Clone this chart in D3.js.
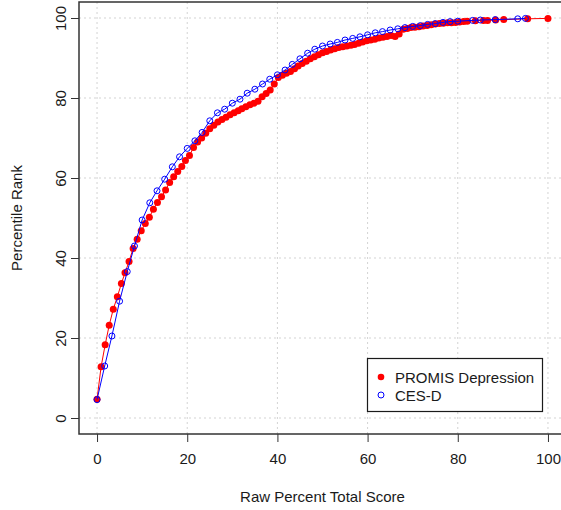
<!DOCTYPE html>
<html>
<head>
<meta charset="utf-8">
<script src="https://cdn.jsdelivr.net/npm/d3@7"></script>
<style>
  body { margin: 0; background: #fff; }
  text { font-family: "Liberation Sans", Arial, sans-serif; fill: #1a1a1a; }
</style>
</head>
<body>
<svg id="chart" width="561" height="510"></svg>
<script>
// PROMIS Depression: raw percent total score -> percentile rank
const promisX = [0.0,0.9,1.8,2.7,3.6,4.5,5.4,6.2,7.1,8.0,8.9,9.8,10.7,11.6,12.5,13.4,14.3,15.2,16.1,17.0,
  17.9,18.8,19.6,20.5,21.4,22.3,23.2,24.1,25.0,25.9,26.8,27.7,28.6,29.5,30.4,31.3,32.1,33.0,33.9,34.8,
  35.7,36.6,37.5,38.4,39.3,40.2,41.1,42.0,42.9,43.8,44.6,45.5,46.4,47.3,48.2,49.1,50.0,50.9,51.8,52.7,
  53.6,54.5,55.4,56.3,57.1,58.0,58.9,59.8,60.7,61.6,62.5,63.4,64.3,65.2,66.1,67.0,67.9,68.8,69.6,70.5,
  71.4,72.3,73.2,74.1,75.0,75.9,76.8,77.7,78.6,79.5,80.4,81.3,82.1,83.9,85.7,86.6,88.4,90.2,95.5,100.0];
const promisY = [4.7,12.8,18.3,23.2,27.2,30.3,33.6,36.3,39.1,42.4,44.7,46.8,48.6,50.2,52.2,53.9,55.3,57.0,58.9,60.3,
  61.6,62.9,64.4,65.6,67.6,69.0,70.0,71.2,72.3,73.2,74.0,74.6,75.2,75.8,76.3,76.8,77.3,77.8,78.3,78.7,
  79.2,80.3,81.1,82.0,83.5,85.1,85.7,86.2,86.6,87.3,88.0,88.6,89.2,89.8,90.3,90.8,91.3,91.6,92.0,92.3,
  92.6,92.8,93.0,93.2,93.4,93.7,94.0,94.3,94.5,94.7,95.0,95.2,95.4,95.6,95.4,96.0,97.2,97.4,97.6,97.7,
  97.8,98.0,98.1,98.3,98.5,98.6,98.7,98.8,98.8,98.9,99.0,99.1,99.2,99.3,99.4,99.4,99.5,99.6,99.8,99.9];

// CES-D
const cesdX = [0.0,1.7,3.3,5.0,6.7,8.3,10.0,11.7,13.3,15.0,16.7,18.3,20.0,21.7,23.3,25.0,26.7,28.3,30.0,31.7,
  33.3,35.0,36.7,38.3,40.0,41.7,43.3,45.0,46.7,48.3,50.0,51.7,53.3,55.0,56.7,58.3,60.0,61.7,63.3,65.0,
  66.7,68.3,70.0,71.7,73.3,75.0,76.7,78.3,80.0,83.3,85.0,88.3,93.3,95.0];
const cesdY = [4.6,13.0,20.5,29.2,36.6,43.0,49.5,53.8,56.8,59.7,62.8,65.3,67.4,69.3,71.4,74.3,76.3,77.2,78.7,79.7,
  81.2,82.2,83.5,84.7,85.8,87.0,88.4,89.8,91.2,92.2,93.0,93.5,93.9,94.5,94.9,95.3,95.8,96.3,96.6,97.0,
  97.3,97.6,97.9,98.1,98.4,98.6,98.9,99.1,99.2,99.4,99.5,99.6,99.8,99.9];

const xTicks = [0, 20, 40, 60, 80, 100];
const yTicks = [0, 20, 40, 60, 80, 100];
const seriesNames = ["PROMIS Depression", "CES-D"];

const svg = d3.select('#chart');
const pLeft = 79, pRight = 566, pTop = 2, pBottom = 434;

const x = d3.scaleLinear().domain([-4, 104]).range([pLeft, pRight]);
const y = d3.scaleLinear().domain([-4, 104]).range([pBottom, pTop]);

svg.append('rect').attr('width', 561).attr('height', 510).attr('fill', '#fff');

// grid
svg.append('g').selectAll('line')
  .data(xTicks).enter().append('line')
    .attr('x1', d => x(d)).attr('x2', d => x(d))
    .attr('y1', pTop).attr('y2', pBottom)
    .attr('stroke', '#d3d3d3').attr('stroke-dasharray', '2,3');
svg.append('g').selectAll('line')
  .data(yTicks).enter().append('line')
    .attr('x1', pLeft).attr('x2', pRight)
    .attr('y1', d => y(d)).attr('y2', d => y(d))
    .attr('stroke', '#d3d3d3').attr('stroke-dasharray', '2,3');

// axes
const xAxis = svg.append('g')
  .attr('transform', `translate(0,${pBottom})`)
  .call(d3.axisBottom(x).tickValues(xTicks).tickSize(8).tickPadding(11));
const yAxis = svg.append('g')
  .attr('transform', `translate(${pLeft},0)`)
  .call(d3.axisLeft(y).tickValues(yTicks).tickSize(8));
[xAxis, yAxis].forEach(g => {
  g.select('.domain').remove();
  g.selectAll('line').attr('stroke', '#333');
  g.selectAll('text').attr('font-size', 15).attr('fill', '#1a1a1a');
});
// R style: y tick labels parallel to the axis
yAxis.selectAll('.tick text')
  .attr('x', null).attr('dy', null)
  .attr('text-anchor', 'middle')
  .attr('transform', 'translate(-13,0) rotate(-90)');

// box
svg.append('rect')
  .attr('x', pLeft).attr('y', pTop)
  .attr('width', pRight - pLeft).attr('height', pBottom - pTop)
  .attr('fill', 'none').attr('stroke', '#333').attr('stroke-width', 1.5);

// series
const line = d3.line().x(d => x(d[0])).y(d => y(d[1]));
const promis = d3.zip(promisX, promisY);
const cesd = d3.zip(cesdX, cesdY);

svg.append('path').datum(promis).attr('d', line)
  .attr('fill', 'none').attr('stroke', '#ff0000').attr('stroke-width', 1);
svg.append('g').selectAll('circle')
  .data(promis).enter().append('circle')
    .attr('cx', d => x(d[0])).attr('cy', d => y(d[1]))
    .attr('r', 3.5).attr('fill', '#ff0000');

svg.append('path').datum(cesd).attr('d', line)
  .attr('fill', 'none').attr('stroke', '#0000ff').attr('stroke-width', 1);
svg.append('g').selectAll('circle')
  .data(cesd).enter().append('circle')
    .attr('cx', d => x(d[0])).attr('cy', d => y(d[1]))
    .attr('r', 3).attr('fill', 'none').attr('stroke', '#0000ff').attr('stroke-width', 1);

// axis titles
svg.append('text')
  .attr('x', (x(0) + x(100)) / 2).attr('y', 502)
  .attr('text-anchor', 'middle').attr('font-size', 15)
  .text('Raw Percent Total Score');
svg.append('text')
  .attr('transform', `translate(22,${(y(0) + y(100)) / 2}) rotate(-90)`)
  .attr('text-anchor', 'middle').attr('font-size', 15)
  .text('Percentile Rank');

// legend
const lg = svg.append('g');
lg.append('rect')
  .attr('x', 367.5).attr('y', 358.5).attr('width', 175).attr('height', 53)
  .attr('fill', '#fff').attr('stroke', '#1a1a1a').attr('stroke-width', 1.2);
seriesNames.forEach((name, i) => {
  const cy = 377 + i * 18;
  if (i === 0) {
    lg.append('circle').attr('cx', 381).attr('cy', cy).attr('r', 3.3).attr('fill', '#ff0000');
  } else {
    lg.append('circle').attr('cx', 381).attr('cy', cy).attr('r', 3)
      .attr('fill', 'none').attr('stroke', '#0000ff').attr('stroke-width', 1);
  }
  lg.append('text').attr('x', 395).attr('y', cy + 5.5)
    .attr('font-size', 15).text(name);
});
</script>
</body>
</html>
